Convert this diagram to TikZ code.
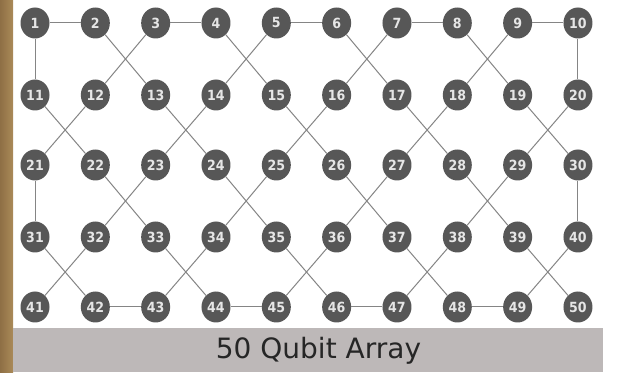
\documentclass[tikz,border=0pt]{standalone}
\usepackage{fontspec}
\setmainfont{DejaVu Sans}
\newfontfamily\numfont{DejaVu Sans Condensed}
\usetikzlibrary{shapes.geometric}
\begin{document}
\begin{tikzpicture}[x=1pt,y=1pt,
  qb/.style={ellipse,fill=qgray,draw=none,minimum width=29pt,minimum height=31pt,inner sep=0pt,
    text=qtext,font=\numfont\bfseries\fontsize{14}{14}\selectfont},
  link/.style={draw=qline,line width=1pt}]
\definecolor{qgray}{HTML}{575757}
\definecolor{qtext}{HTML}{E6E6E6}
\definecolor{qline}{HTML}{858585}
\definecolor{qbar}{HTML}{BDB8B8}
\definecolor{qbrownA}{HTML}{8E6F45}
\definecolor{qbrownB}{HTML}{AA8A58}
\useasboundingbox (0,0) rectangle (618,372);
\fill[white] (0,0) rectangle (618,372);
\fill[left color=qbrownA,right color=qbrownB] (0,0) rectangle (13,372);
\fill[qbar] (13,0) rectangle (603,44);
\node[font=\fontsize{28}{28}\selectfont,text=black!85,inner sep=0pt] (title) at (318.5,21) {50 Qubit Array};
\foreach \r/\y in {0/349,1/277,2/207,3/135,4/65}{
  \foreach \c in {1,...,10}{
    \pgfmathtruncatemacro\n{\r*10+\c}
    \node[qb] (n\n) at ({35+60.33*(\c-1)},\y) {\n};
  }
}
\foreach \a/\b in {1/2,3/4,5/6,7/8,9/10,1/11,10/20,2/13,3/12,4/15,5/14,6/17,7/16,8/19,9/18,
  11/22,12/21,13/24,14/23,15/26,16/25,17/28,18/27,19/30,20/29,
  21/31,30/40,22/33,23/32,24/35,25/34,26/37,27/36,28/39,29/38,
  31/42,32/41,33/44,34/43,35/46,36/45,37/48,38/47,39/50,40/49,
  42/43,44/45,46/47,48/49}{
  \draw[link] (n\a) -- (n\b);
}
\end{tikzpicture}
\end{document}
